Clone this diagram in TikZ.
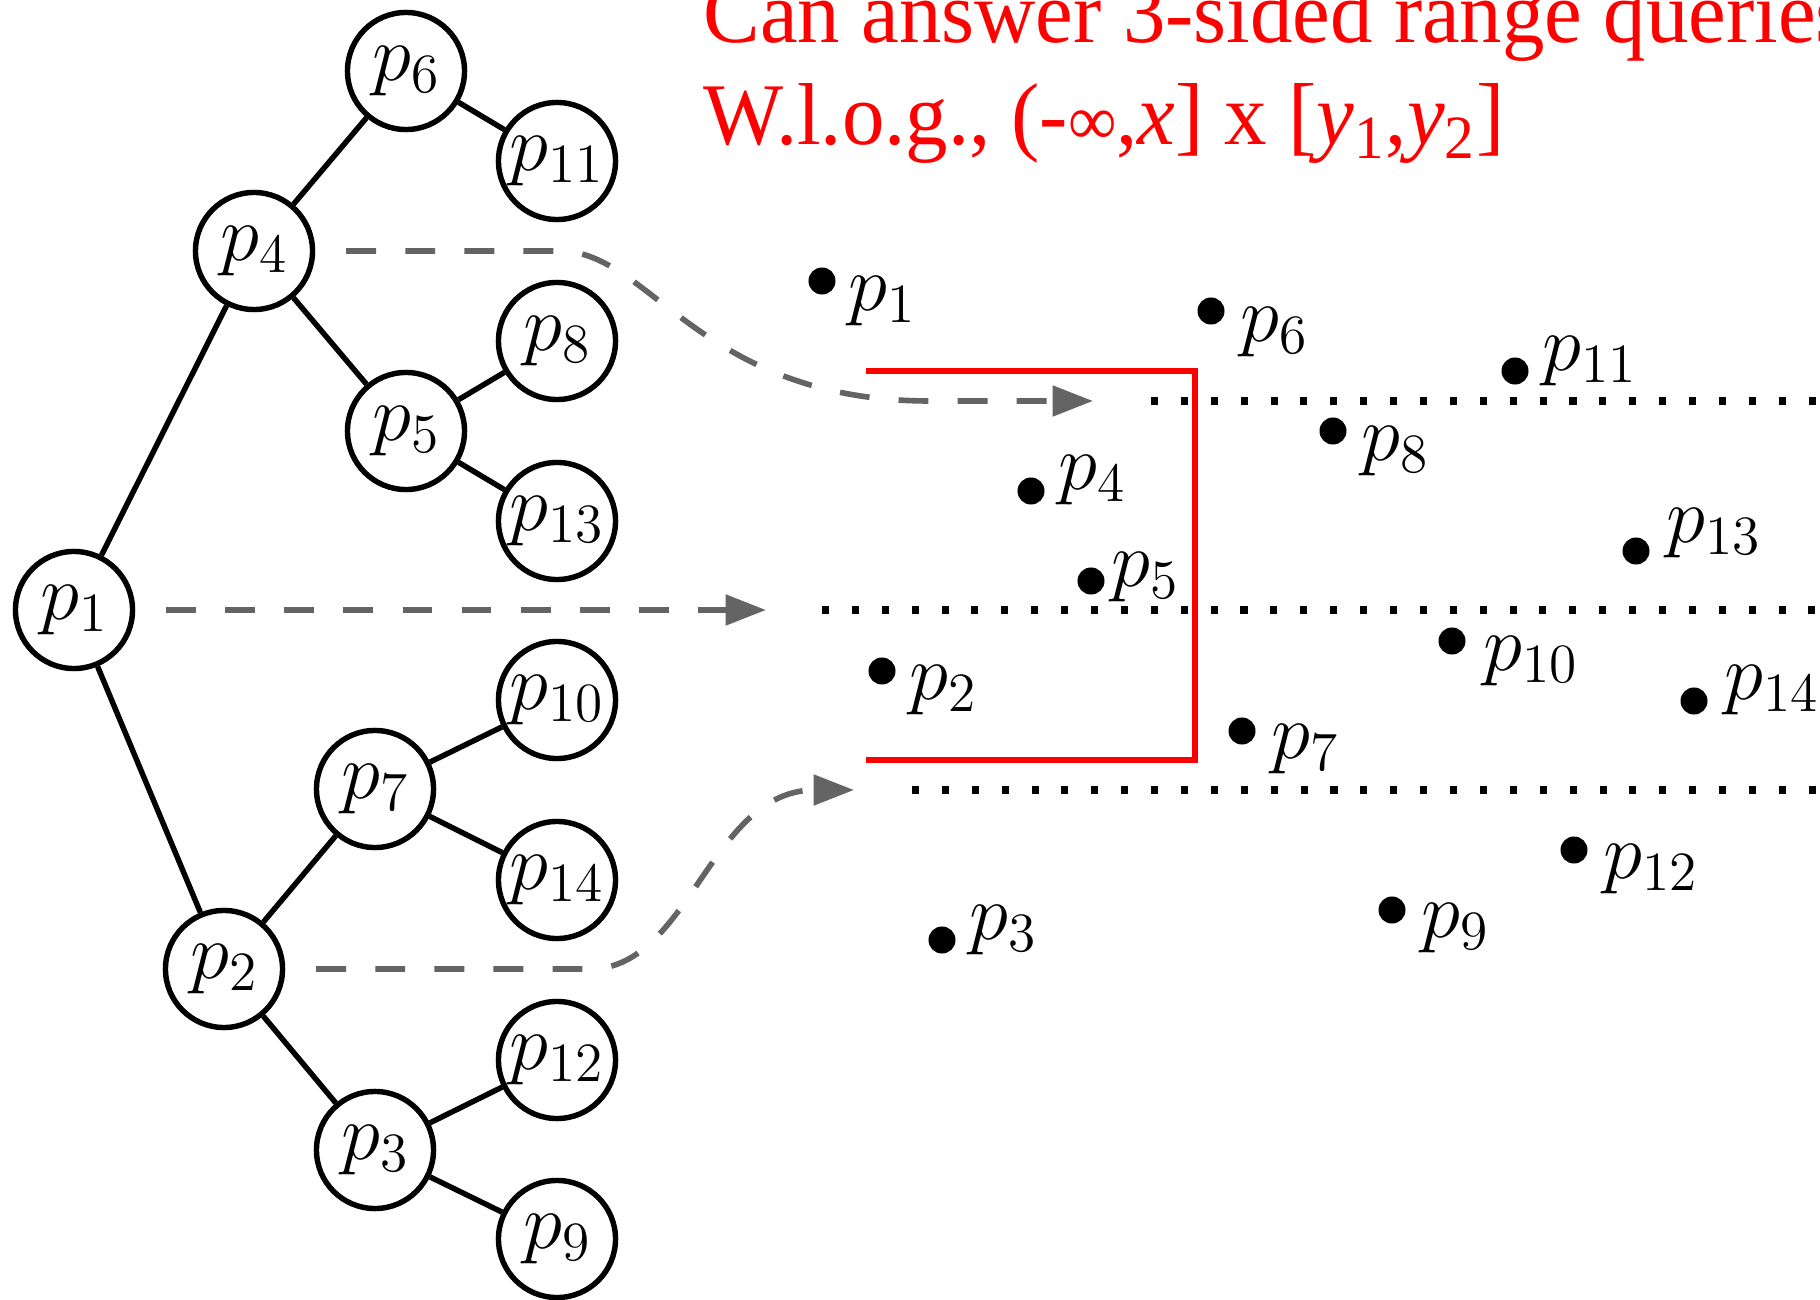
\RequirePackage{fix-cm}
\documentclass[tikz,border=0pt]{standalone}
\usepackage{fontspec}
\newfontfamily\notefont[FakeStretch=0.965]{Liberation Serif}
\usetikzlibrary{arrows.meta}
\definecolor{linkgray}{RGB}{100,100,100}

\begin{document}
\begin{tikzpicture}[x=0.01cm,y=-0.01cm,
  labelfont/.style={font=\fontsize{22.5}{27}\selectfont},
  treenode/.style={circle,draw=black,line width=1.55pt,minimum size=1.17cm,inner sep=0pt,labelfont},
  edge/.style={line width=1.55pt},
  pt/.style={circle,fill=black,inner sep=0pt,minimum size=0.27cm},
  ptlabel/.style={inner sep=0pt,labelfont},
  link/.style={draw=linkgray,line width=1.6pt,dash pattern=on 8.5pt off 8.3pt,shorten <=8.8pt,
    -{Triangle[length=11.5pt,width=8.5pt,fill=linkgray]}},
  sweep/.style={line width=2pt,dash pattern=on 2pt off 6.5pt},
  query/.style={draw=red,line width=1.6pt},
  note/.style={anchor=base west,inner sep=0pt,text=red,font=\notefont\fontsize{25}{30}\selectfont},
]
% canvas
\path[use as bounding box,fill=white] (0,0) rectangle (1820,1300);

% heading
\begin{scope}
  \clip (0,0) rectangle (1820,1300);
  \node[note] (note1) at (703,43) {Can answer 3-sided range queries};
  \node[note] (note2) at (703,145) {W.l.o.g., (-{\fontsize{20}{24}\selectfont ∞},\textit{x}] x [\textit{y}\textsubscript{1},\textit{y}\textsubscript{2}]};
\end{scope}

% priority search tree
\node[treenode] (p1)  at (74,610)   {$p_{1}$};
\node[treenode] (p4)  at (254,251)  {$p_{4}$};
\node[treenode] (p6)  at (406,71)   {$p_{6}$};
\node[treenode] (p11) at (557,161)  {$p_{11}$};
\node[treenode] (p5)  at (406,431)  {$p_{5}$};
\node[treenode] (p8)  at (557,341)  {$p_{8}$};
\node[treenode] (p13) at (557,521)  {$p_{13}$};
\node[treenode] (p2)  at (224,969)  {$p_{2}$};
\node[treenode] (p7)  at (375,789)  {$p_{7}$};
\node[treenode] (p10) at (557,700)  {$p_{10}$};
\node[treenode] (p14) at (557,880)  {$p_{14}$};
\node[treenode] (p3)  at (375,1150) {$p_{3}$};
\node[treenode] (p12) at (557,1060) {$p_{12}$};
\node[treenode] (p9)  at (557,1239) {$p_{9}$};

\foreach \a/\b in {p1/p4,p1/p2,p4/p6,p4/p5,p6/p11,p5/p8,p5/p13,
                   p2/p7,p2/p3,p7/p10,p7/p14,p3/p12,p3/p9}
  \draw[edge] (\a) -- (\b);

% point set
\foreach \i/\x/\y/\lx/\ly in {
   1/822/281/882/301,   2/882/671/943/690,    3/942/940/1003/930,
   4/1031/491/1092/480, 5/1091/581/1145/577,  6/1211/311/1274/332,
   7/1242/731/1305/749, 8/1333/431/1395/451,  9/1392/910/1455/928,
  10/1452/641/1531/661, 11/1515/371/1590/361, 12/1574/850/1651/869,
  13/1636/551/1714/533, 14/1694/701/1772/690}{
  \node[pt] (d\i) at (\x,\y) {};
  \node[ptlabel] (l\i) at (\lx,\ly) {$p_{\i}$};
}

% sweep levels
\coordinate (s1a) at (1151,401); \coordinate (s1b) at (1820,401);
\coordinate (s2a) at (822,610);  \coordinate (s2b) at (1820,610);
\coordinate (s3a) at (912,790);  \coordinate (s3b) at (1820,790);
\draw[sweep] (s1a) -- (s1b);
\draw[sweep] (s2a) -- (s2b);
\draw[sweep] (s3a) -- (s3b);

% query range (-inf, x] x [y1, y2]
\draw[query] (866,371) -- (1195,371) -- (1195,760) -- (866,760);

% links from tree nodes to their levels
\coordinate (t4) at (1093,401);
\coordinate (t1) at (766,610);
\coordinate (t2) at (854,790);
\draw[link] (p4.east) -- (560,251) .. controls (650,251) and (700,401) .. (930,401) -- (t4);
\draw[link] (p1.east) -- (t1);
\draw[link] (p2.east) -- (590,969) .. controls (690,969) and (710,790) .. (t2);
\end{tikzpicture}
\end{document}
